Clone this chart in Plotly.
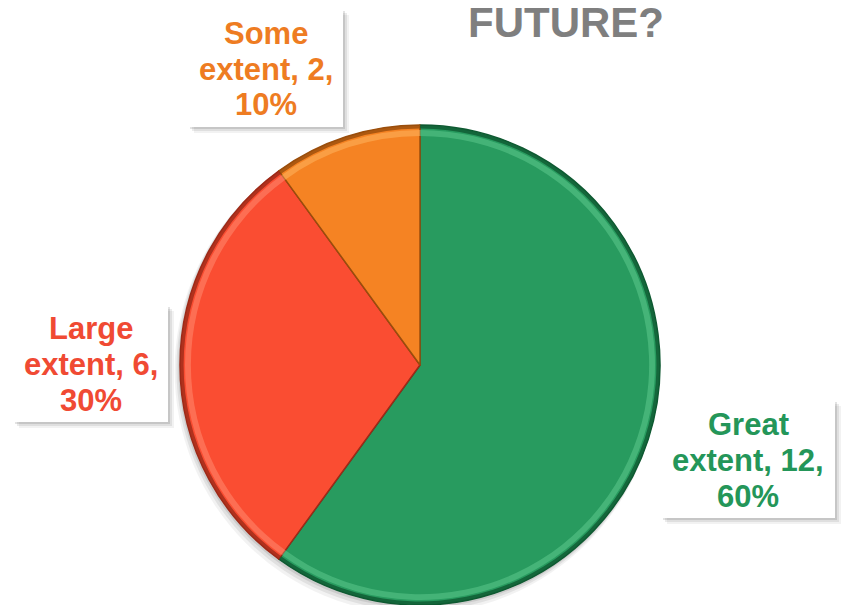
import plotly.graph_objects as go

# Survey answers
categories = ["Great extent", "Large extent", "Some extent"]
counts = [12, 6, 2]
slice_colors = ["#289B5F", "#FA4D32", "#F58323"]
edge_colors = ["#0F5A32", "#9E2A18", "#9A4E0C"]
light_colors = ["#5CC88C", "#FF8A70", "#FFB560"]
text_colors = ["#249659", "#F04A33", "#EE7C22"]
title_text = "FUTURE?"

W, H = 847, 605
total = sum(counts)
percents = [round(v / total * 100) for v in counts]
FONT = "Liberation Sans, Arial, sans-serif"


def px_x(x):
    return x / W


def px_y(y):
    return 1 - y / H


def pie_domain(cx, cy, r):
    return dict(x=[px_x(cx - r), px_x(cx + r)], y=[px_y(cy + r), px_y(cy - r)])


# Pie geometry in pixels
cx, cy, r = 420, 365, 240

fig = go.Figure()

# soft drop shadow under the pie
shapes = []
for off, op in [(9, 0.05), (6, 0.07), (3, 0.09)]:
    shapes.append(dict(
        type="circle", xref="paper", yref="paper", layer="below",
        x0=px_x(cx - r - off * 0.6), x1=px_x(cx + r - off * 0.2),
        y0=px_y(cy + r + off), y1=px_y(cy - r + off * 0.3),
        fillcolor=f"rgba(0,0,0,{op})", line=dict(width=0),
    ))

common = dict(labels=categories, values=counts, sort=False, direction="clockwise",
              rotation=0, textinfo="none", showlegend=False)

fig.add_trace(go.Pie(
    **common, domain=pie_domain(cx, cy, r), hoverinfo="label+value+percent",
    marker=dict(colors=slice_colors, line=dict(color=edge_colors, width=1.5)),
))

# light band just inside the rim
fig.add_trace(go.Pie(
    **common, domain=pie_domain(cx, cy, r - 5), hoverinfo="skip", hole=0.975,
    marker=dict(colors=light_colors, line=dict(width=0)), opacity=0.55,
))

# darker rim for a bevelled look
fig.add_trace(go.Pie(
    **common, domain=pie_domain(cx, cy, r), hoverinfo="skip", hole=0.985,
    marker=dict(colors=edge_colors, line=dict(width=0)), opacity=0.8,
))

# label boxes: (left, top, right, bottom) in pixels
boxes = [(661, 400, 835, 518), (13, 305, 168, 422), (188, 9, 343, 127)]
line_gap = 36

annotations = []
for cat, v, p, col, (x0, y0, x1, y1) in zip(categories, counts, percents, text_colors, boxes):
    for off, op in [(6, 0.05), (4, 0.08), (2, 0.11)]:
        shapes.append(dict(
            type="rect", xref="paper", yref="paper", layer="above",
            x0=px_x(x0 + off), x1=px_x(x1 + off), y0=px_y(y1 + off), y1=px_y(y0 + off),
            fillcolor=f"rgba(0,0,0,{op})", line=dict(width=0),
        ))
    shapes.append(dict(
        type="rect", xref="paper", yref="paper", layer="above",
        x0=px_x(x0), x1=px_x(x1), y0=px_y(y1), y1=px_y(y0),
        fillcolor="white", line=dict(width=0),
    ))
    first, rest = cat.split(" ", 1)
    lines = [first, f"{rest}, {v},", f"{p}%"]
    bx, by = (x0 + x1) / 2, (y0 + y1) / 2 + 1
    for i, ln in enumerate(lines):
        annotations.append(dict(
            x=px_x(bx), y=px_y(by + (i - 1) * line_gap), xref="paper", yref="paper",
            xanchor="center", yanchor="middle", showarrow=False,
            text=f"<b>{ln}</b>",
            font=dict(family=FONT, size=31, color=col),
        ))

annotations.append(dict(
    x=px_x(566), y=px_y(23), xref="paper", yref="paper",
    xanchor="center", yanchor="middle", showarrow=False,
    text=f"<b>{title_text}</b>",
    font=dict(family=FONT, size=42, color="#7F7F7F"),
))

fig.update_layout(
    width=W, height=H, margin=dict(l=0, r=0, t=0, b=0),
    paper_bgcolor="white", plot_bgcolor="white",
    shapes=shapes, annotations=annotations, showlegend=False,
)

fig.write_html("out.html", config={"displayModeBar": False})
